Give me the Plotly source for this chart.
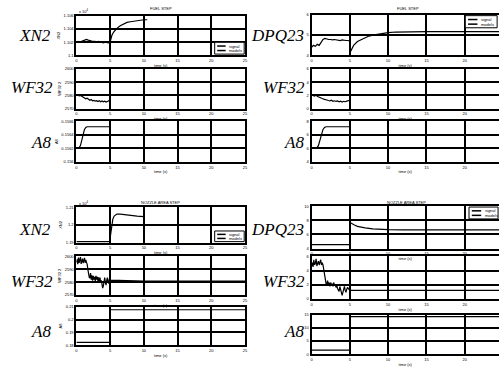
import plotly.graph_objects as go

W, H = 502, 367

# ---------------- data ----------------
# FUEL STEP
t_fuel_xn2 = [0, 0.25, 0.5, 0.75, 1, 1.25, 1.5, 1.75, 2, 2.25, 2.5, 2.75, 3, 3.25, 3.5, 3.75, 4, 4.25, 4.5, 4.75, 5,
              5.25, 5.5, 5.75, 6, 6.5, 7, 7.5, 8, 8.5, 9, 9.5, 10, 10.5]
xn2_fuel = [1.1020, 1.1021, 1.1020, 1.1021, 1.1022, 1.1023, 1.1024, 1.1023, 1.1022, 1.1022, 1.1021, 1.1021,
            1.1020, 1.1021, 1.1020, 1.1020, 1.1019, 1.1020, 1.1019, 1.1019, 1.1020,
            1.1030, 1.1035, 1.1038, 1.1041, 1.1045, 1.1048, 1.1050, 1.1051, 1.1052, 1.1053, 1.1053, 1.1054, 1.1054]

t_fuel_wf = [0, 0.2, 0.4, 0.6, 0.8, 1.0, 1.2, 1.4, 1.6, 1.8, 2.0, 2.2, 2.4, 2.6, 2.8, 3.0, 3.2, 3.4, 3.6, 3.8,
             4.0, 4.2, 4.4, 4.6, 4.8, 5.0]
wf_fuel_left = [2579.8, 2580.1, 2579.6, 2580.0, 2579.4, 2578.6, 2578.2, 2577.4, 2577.9, 2576.8, 2576.3, 2576.9,
                2575.8, 2576.2, 2575.6, 2576.0, 2575.3, 2575.9, 2575.2, 2575.7, 2575.1, 2575.6, 2574.9, 2575.4,
                2575.8, 2576.4]
wf_fuel_right = [2579.9, 2580.0, 2579.5, 2580.1, 2579.2, 2578.5, 2578.0, 2577.6, 2577.2, 2576.6, 2576.5, 2576.1,
                 2575.9, 2576.3, 2575.5, 2575.9, 2575.4, 2575.8, 2575.1, 2575.6, 2575.0, 2575.5, 2575.2, 2575.6,
                 2575.9, 2576.3]

t_fuel_a8 = [0, 0.4, 0.6, 0.8, 1.0, 1.2, 1.4, 1.6, 2, 3, 4, 5]
a8_fuel_left = [0.15621, 0.15621, 0.15624, 0.15632, 0.15641, 0.15648, 0.15651, 0.15652, 0.15652, 0.15652,
                0.15652, 0.15652]
t_fuel_a8r = [0, 0.7, 0.9, 1.1, 1.3, 1.5, 1.7, 1.9, 2.2, 3, 4, 5]
a8_fuel_right = [0.15621, 0.15621, 0.15624, 0.15632, 0.15641, 0.15648, 0.15651, 0.15652, 0.15652, 0.15652,
                 0.15652, 0.15652]

t_fuel_dpq = [0, 0.25, 0.5, 0.75, 1, 1.25, 1.5, 1.75, 2, 2.25, 2.5, 2.75, 3, 3.25, 3.5, 3.75, 4, 4.25, 4.5, 4.75, 5,
              5.05, 5.25, 5.5, 6, 6.5, 7, 7.5, 8, 9, 10, 11, 12, 15, 20, 25]
dpq_fuel = [4.39, 4.49, 4.44, 4.54, 4.49, 4.61, 4.78, 4.83, 4.80, 4.78, 4.78, 4.76, 4.78, 4.76, 4.76, 4.73, 4.76,
            4.73, 4.73, 4.73, 4.71,
            4.15, 4.34, 4.49, 4.68, 4.78, 4.88, 4.95, 5.00, 5.07, 5.12, 5.15, 5.16, 5.17, 5.17, 5.17]

# NOZZLE AREA STEP
t_noz_xn2 = [0, 1, 2, 3, 4, 5, 5.05, 5.2, 5.4, 5.6, 5.8, 6, 6.5, 7, 7.5, 8, 9, 10]
xn2_noz = [1.1906, 1.1906, 1.1907, 1.1906, 1.1906, 1.1906, 1.1939, 1.1994, 1.2033, 1.2050, 1.2058, 1.2061,
           1.2061, 1.2058, 1.2056, 1.2053, 1.2050, 1.2047]

t_noz_wf = [0, 0.1, 0.2, 0.3, 0.4, 0.5, 0.6, 0.7, 0.8, 0.9, 1.0, 1.1, 1.2, 1.3, 1.4, 1.5, 1.6, 1.7, 1.8, 1.9,
            2.0, 2.1, 2.2, 2.3, 2.4, 2.5, 2.6, 2.7, 2.8, 2.9, 3.0, 3.1, 3.2, 3.3, 3.4, 3.5, 3.6, 3.7, 3.8, 3.9,
            4.0, 4.1, 4.2, 4.3, 4.4, 4.5, 4.6, 4.7, 4.8, 4.9, 5.0, 10, 15, 20, 25]
wf_noz_left = [2595.4, 2597.7, 2594.0, 2599.2, 2595.0, 2596.6, 2599.6, 2594.2, 2596.4, 2598.3, 2594.8, 2596.2,
               2599.0, 2595.0, 2597.3, 2595.4, 2593.9, 2590.0, 2585.4, 2583.8, 2583.1, 2587.0, 2581.9, 2585.4,
               2581.1, 2585.0, 2581.9, 2584.2, 2580.8, 2585.0, 2581.9, 2584.2, 2580.8, 2583.8, 2580.0, 2583.5,
               2579.6, 2581.5, 2578.1, 2575.4, 2577.3, 2581.9, 2583.5, 2579.6, 2577.7, 2581.5, 2583.5, 2580.4,
               2578.8, 2582.3, 2581.5, 2580.8, 2580.8, 2580.8, 2580.8]
wf_noz_right = [2593.3, 2595.6, 2592.6, 2597.7, 2594.0, 2595.1, 2598.4, 2593.3, 2595.1, 2596.7, 2594.0, 2595.6,
                2597.7, 2594.0, 2595.6, 2594.0, 2590.9, 2586.3, 2582.2, 2580.8, 2580.2, 2583.0, 2579.5, 2581.6,
                2578.8, 2581.6, 2579.5, 2580.8, 2578.8, 2581.6, 2579.5, 2580.2, 2578.1, 2579.5, 2577.4, 2576.7,
                2575.3, 2578.8, 2576.7, 2574.6, 2572.5, 2574.6, 2577.4, 2578.8, 2576.0, 2574.6, 2576.7, 2578.1,
                2577.4, 2576.0, 2576.0, 2576.0, 2576.0, 2576.0, 2576.0]

t_noz_a8 = [0, 5, 5, 25]
a8_noz_left = [0.1823, 0.1823, 0.2077, 0.2077]
a8_noz_right = [0.1830, 0.1830, 0.2085, 0.2085]

t_noz_dpq = [0, 1, 2, 3, 4, 5, 5.02, 5.3, 5.6, 6, 6.5, 7, 8, 9, 10, 12, 15, 20, 25]
dpq_noz = [4.56, 4.58, 4.55, 4.57, 4.56, 4.56, 7.70, 7.49, 7.35, 7.14, 7.00, 6.93, 6.79, 6.72, 6.68, 6.65, 6.65,
           6.65, 6.65]

x_ticks = [0, 5, 10, 15, 20, 25]

# ---------------- layout config ----------------
LEFT = (76, 246, [0, 25])
RIGHT = (313, 502, [0, 25 * (502 - 313) / (506 - 313)])

panels = [
    # col, top, bottom, yrange, tickvals, ticktext, t, y, ytitle
    (LEFT, 13, 53, [1.100, 1.106], [1.100, 1.102, 1.104, 1.106], ["1.1", "1.102", "1.104", "1.106"],
     t_fuel_xn2, xn2_fuel, "XN2"),
    (LEFT, 67, 107, [2570, 2600], [2570, 2580, 2590, 2600], ["2570", "2580", "2590", "2600"],
     t_fuel_wf, wf_fuel_left, "WF32 2"),
    (LEFT, 120, 161, [0.1560, 0.1566], [0.1560, 0.1562, 0.1564, 0.1566], ["0.156", "0.1562", "0.1564", "0.1566"],
     t_fuel_a8, a8_fuel_left, "A8"),
    (RIGHT, 12, 53, [4, 6], [4, 5, 6], ["4", "5", "6"], t_fuel_dpq, dpq_fuel, ""),
    (RIGHT, 67, 107, [2570, 2600], [2570, 2580, 2590, 2600], ["0", "2", "4", "6"],
     t_fuel_wf, wf_fuel_right, ""),
    (RIGHT, 120, 161, [0.1560, 0.1566], [0.1560, 0.1562, 0.1564, 0.1566], ["4", "6", "6", "8"],
     t_fuel_a8r, a8_fuel_right, ""),
    (LEFT, 207, 243, [1.19, 1.21], [1.19, 1.20, 1.21], ["1.19", "1.2", "1.21"], t_noz_xn2, xn2_noz, "XN2"),
    (LEFT, 257, 296, [2570, 2600], [2570, 2580, 2590, 2600], ["2570", "2580", "2590", "2600"],
     t_noz_wf, wf_noz_left, "WF32 2"),
    (LEFT, 308, 347, [0.18, 0.21], [0.18, 0.19, 0.20, 0.21], ["0.18", "0.19", "0.2", "0.21"],
     t_noz_a8, a8_noz_left, "A8"),
    (RIGHT, 206, 249, [4, 10], [4, 6, 8, 10], ["4", "6", "8", "10"], t_noz_dpq, dpq_noz, ""),
    (RIGHT, 257, 300, [2570, 2600], [2570, 2580, 2590, 2600], ["0", "2", "4", "6"],
     t_noz_wf, wf_noz_right, ""),
    (RIGHT, 316, 356, [0.18, 0.21], [0.18, 0.19, 0.20, 0.21], ["0", "5", "10", "15"],
     t_noz_a8, a8_noz_right, ""),
]


def sfx(i):
    return "" if i == 1 else str(i)


fig = go.Figure()
layout = dict(width=W, height=H, margin=dict(l=0, r=0, t=0, b=0), paper_bgcolor="white",
              plot_bgcolor="white", showlegend=False, font=dict(family="Liberation Sans", color="black"))

small = dict(family="Liberation Sans", size=4, color="black")
for i, (col, top, bot, yr, tv, tt, t, y, ytitle) in enumerate(panels, start=1):
    x0, x1, xr = col
    s = sfx(i)
    fig.add_trace(go.Scatter(x=t, y=y, mode="lines", line=dict(color="black", width=1.2),
                             xaxis=f"x{s}", yaxis=f"y{s}", showlegend=False, hoverinfo="skip"))
    is_right = col is RIGHT
    layout[f"xaxis{s}"] = dict(domain=[x0 / W, min(x1 / W, 1.0)], anchor=f"y{s}", range=xr,
                               tickvals=x_ticks, tickfont=small, showgrid=True, gridcolor="black",
                               gridwidth=2, showline=True, linecolor="black", linewidth=2, mirror=True,
                               zeroline=False, ticks="",
                               title=dict(text="time (s)", font=small, standoff=2))
    yax = dict(domain=[1 - bot / H, 1 - top / H], anchor=f"x{s}", range=yr,
               tickvals=tv, ticktext=tt, tickfont=small, showgrid=True, gridcolor="black",
               gridwidth=2, showline=True, linecolor="black", linewidth=2,
               mirror=not is_right, zeroline=False, ticks="")
    if ytitle:
        yax["title"] = dict(text=ytitle, font=small, standoff=3)
    layout[f"yaxis{s}"] = yax

annotations = []
big = dict(family="Liberation Serif", size=17, color="black")
row_labels = [
    ("XN2", 34, 33), ("WF32", 31, 86), ("A8", 40, 141),
    ("XN2", 34, 230), ("WF32", 31, 282), ("A8", 40, 333),
    ("DPQ23", 279, 33), ("WF32", 285, 86), ("A8", 295, 141),
    ("DPQ23", 279, 230), ("WF32", 285, 282), ("A8", 295, 333),
]
for txt, cx, cy in row_labels:
    annotations.append(dict(text=f"<i>{txt}</i>", x=cx / W, y=1 - cy / H, xref="paper", yref="paper",
                            showarrow=False, font=big, xanchor="center", yanchor="middle"))

titles = [("FUEL STEP", 161, 6), ("FUEL STEP", 410, 6),
          ("NOZZLE AREA STEP", 161, 202), ("NOZZLE AREA STEP", 409, 202)]
for txt, cx, cy in titles:
    annotations.append(dict(text=txt, x=cx / W, y=1 - cy / H, xref="paper", yref="paper", showarrow=False,
                            font=small, xanchor="center", yanchor="middle"))

for cy in (8, 203):
    annotations.append(dict(text="x 10<sup>4</sup>", x=77 / W, y=1 - cy / H, xref="paper", yref="paper",
                            showarrow=False, font=small, xanchor="left", yanchor="middle"))

# legend boxes (panel index, x0,x1,y0,y1 in axis-domain fractions)
legend_boxes = [(1, 0.82, 0.995, 0.03, 0.33), (4, 0.82, 0.99, 0.68, 0.98),
                (7, 0.82, 0.995, 0.03, 0.33), (10, 0.84, 0.995, 0.7, 0.98)]
legend_names = ["signal", "models"]
shapes = []
for idx, bx0, bx1, by0, by1 in legend_boxes:
    s = sfx(idx)
    xr_, yr_ = f"x{s} domain", f"y{s} domain"
    shapes.append(dict(type="rect", xref=xr_, yref=yr_, x0=bx0, x1=bx1, y0=by0, y1=by1,
                       line=dict(color="black", width=1), fillcolor="white"))
    h = (by1 - by0)
    for k, nm in enumerate(legend_names):
        yy = by1 - h * (0.32 + 0.38 * k)
        shapes.append(dict(type="line", xref=xr_, yref=yr_, x0=bx0 + 0.015, x1=bx0 + 0.065, y0=yy, y1=yy,
                           line=dict(color="black", width=1.5)))
        annotations.append(dict(text=nm, x=bx0 + 0.075, y=yy, xref=xr_, yref=yr_, showarrow=False,
                                font=small, xanchor="left", yanchor="middle"))

layout["annotations"] = annotations
layout["shapes"] = shapes
fig.update_layout(**layout)
fig.write_html("out.html")
